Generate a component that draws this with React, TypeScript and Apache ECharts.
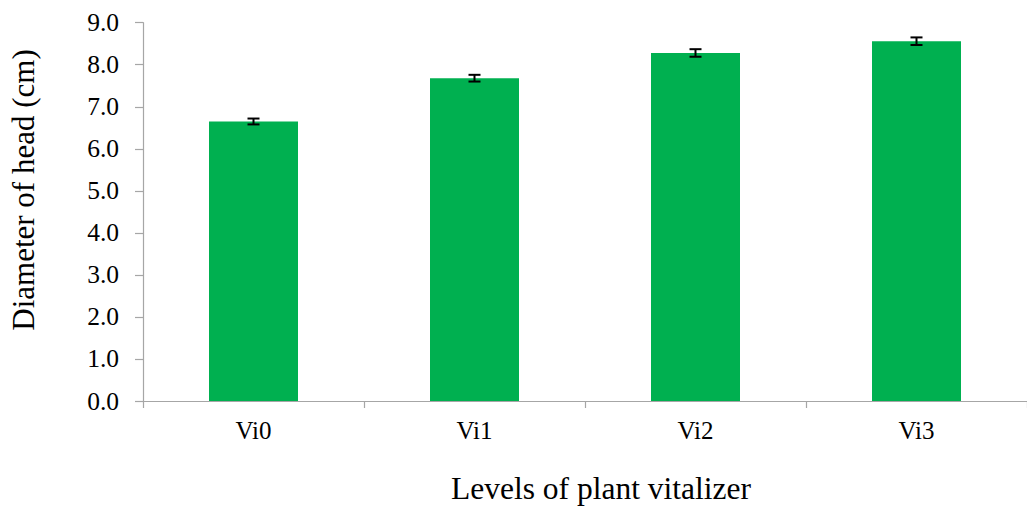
import React, { useEffect, useRef } from "react";
import * as echarts from "echarts";

const categories = ["Vi0", "Vi1", "Vi2", "Vi3"];
const headDiameter = [6.65, 7.68, 8.28, 8.56];
const stdError = [0.07, 0.08, 0.09, 0.09];
const yTicks = [0, 1, 2, 3, 4, 5, 6, 7, 8, 9];

const FONT = "Liberation Serif";
const AXIS_COLOR = "#a6a6a6";

export default function App() {
  const ref = useRef<HTMLDivElement>(null);

  useEffect(() => {
    if (!ref.current) return;
    const chart = echarts.init(ref.current, undefined, { renderer: "svg" });

    const errData = categories.map((_, i) => [i, headDiameter[i], stdError[i]]);

    chart.setOption({
      animation: false,
      backgroundColor: "#ffffff",
      textStyle: { fontFamily: FONT },
      grid: { left: 143, top: 22.7, width: 886, height: 378.3, containLabel: false },
      xAxis: {
        type: "category",
        data: categories,
        axisLine: { lineStyle: { color: AXIS_COLOR, width: 1.2 } },
        axisTick: { show: true, length: 7, alignWithLabel: false, lineStyle: { color: AXIS_COLOR, width: 1.2 } },
        axisLabel: { color: "#000", fontFamily: FONT, fontSize: 25, margin: 17 },
        splitLine: { show: false },
      },
      yAxis: {
        type: "value",
        min: yTicks[0],
        max: yTicks[yTicks.length - 1],
        interval: 1,
        axisLine: { show: true, lineStyle: { color: AXIS_COLOR, width: 1.2 } },
        axisTick: { show: true, length: 8, lineStyle: { color: AXIS_COLOR, width: 1.2 } },
        axisLabel: {
          color: "#000",
          fontFamily: FONT,
          fontSize: 25.5,
          margin: 24,
          formatter: (v: number) => v.toFixed(1),
        },
        splitLine: { show: false },
      },
      graphic: [
        {
          type: "text",
          x: 23,
          y: 190,
          rotation: Math.PI / 2,
          style: {
            text: "Diameter of head (cm)",
            fontFamily: FONT,
            fontSize: 31,
            fill: "#000",
            align: "center",
            verticalAlign: "middle",
          },
        },
        {
          type: "text",
          x: 601,
          y: 488,
          style: {
            text: "Levels of plant vitalizer",
            fontFamily: FONT,
            fontSize: 31.5,
            fill: "#000",
            align: "center",
            verticalAlign: "middle",
          },
        },
      ],
      series: [
        {
          type: "bar",
          data: headDiameter,
          barWidth: 89,
          itemStyle: { color: "#00b050" },
        },
        {
          type: "custom",
          data: errData,
          z: 10,
          renderItem: (params: any, api: any) => {
            const i = api.value(0);
            const v = api.value(1);
            const e = api.value(2);
            const hi = api.coord([i, v + e]);
            const lo = api.coord([i, v - e]);
            const half = 6;
            const style = { stroke: "#000", lineWidth: 2 };
            return {
              type: "group",
              children: [
                { type: "line", shape: { x1: hi[0], y1: hi[1], x2: lo[0], y2: lo[1] }, style },
                { type: "line", shape: { x1: hi[0] - half, y1: hi[1], x2: hi[0] + half, y2: hi[1] }, style },
                { type: "line", shape: { x1: lo[0] - half, y1: lo[1], x2: lo[0] + half, y2: lo[1] }, style },
              ],
            };
          },
        },
      ],
    });

    return () => chart.dispose();
  }, []);

  return (
    <div
      ref={ref}
      style={{ position: "fixed", left: 0, top: 0, width: 1027, height: 506, background: "#fff" }}
    />
  );
}
